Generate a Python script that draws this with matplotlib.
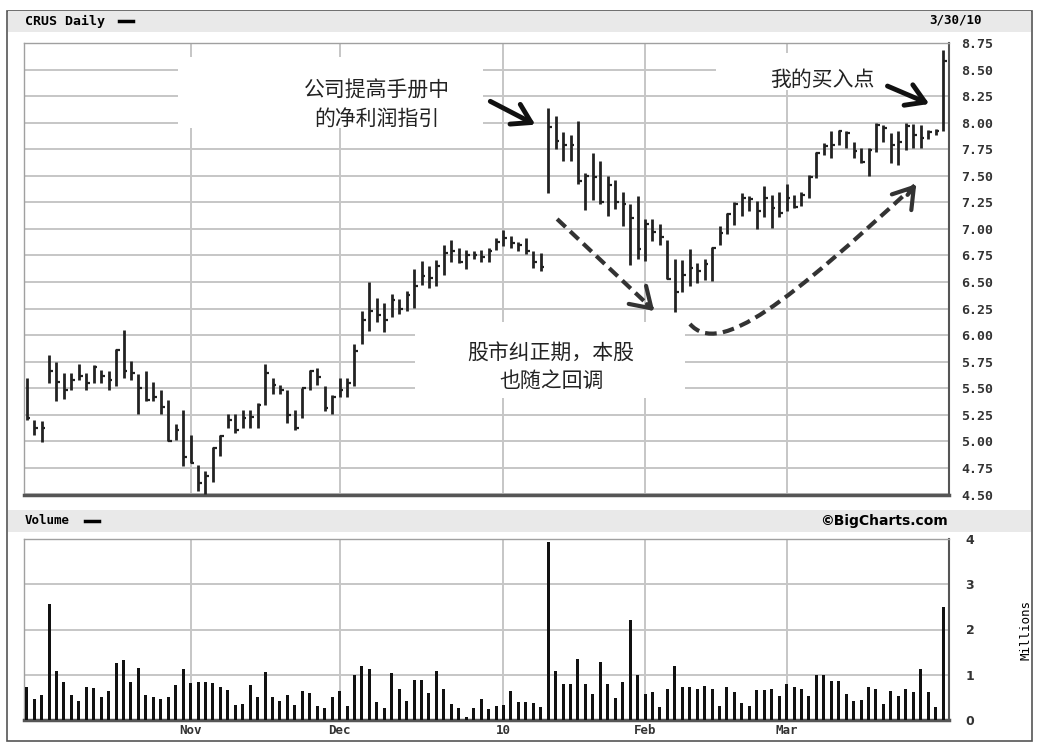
import matplotlib
matplotlib.use("Agg")
import matplotlib.pyplot as plt
import numpy as np
from matplotlib.patches import Rectangle, PathPatch
from matplotlib.path import Path
from matplotlib.lines import Line2D

# CRUS daily bars, Oct 1 2009 .. Mar 30 2010 (one entry per trading day)
high = [5.60, 5.20, 5.19, 5.81, 5.75, 5.64, 5.64, 5.73, 5.64, 5.72,
        5.67, 5.66, 5.87, 6.05, 5.76, 5.63, 5.66, 5.56, 5.48, 5.39,
        5.16, 5.30, 5.06, 4.78, 4.72, 4.95, 5.06, 5.26, 5.26, 5.30,
        5.30, 5.36, 5.73, 5.60, 5.53, 5.48, 5.30, 5.50, 5.67, 5.69,
        5.52, 5.44, 5.60, 5.60, 5.92, 6.23, 6.50, 6.35, 6.30, 6.39,
        6.34, 6.42, 6.62, 6.70, 6.65, 6.71, 6.85, 6.90, 6.82, 6.80,
        6.79, 6.80, 6.82, 6.91, 6.99, 6.93, 6.88, 6.91, 6.79, 6.77,
        8.14, 8.06, 7.91, 7.88, 8.02, 7.53, 7.71, 7.64, 7.50, 7.46,
        7.35, 7.23, 7.31, 7.09, 7.09, 7.05, 6.90, 6.72, 6.71, 6.81,
        6.68, 6.72, 6.83, 7.03, 7.15, 7.25, 7.34, 7.31, 7.26, 7.40,
        7.32, 7.35, 7.42, 7.32, 7.35, 7.51, 7.72, 7.81, 7.92, 7.93,
        7.92, 7.82, 7.76, 7.76, 8.00, 7.98, 7.90, 7.92, 8.00, 7.99,
        7.98, 7.93, 7.94, 8.68]
low = [5.20, 5.06, 4.99, 5.55, 5.38, 5.40, 5.48, 5.58, 5.48, 5.55,
       5.55, 5.48, 5.52, 5.60, 5.58, 5.26, 5.38, 5.38, 5.26, 5.00,
       5.01, 4.77, 4.80, 4.53, 4.50, 4.62, 4.86, 5.13, 5.08, 5.13,
       5.13, 5.13, 5.34, 5.45, 5.45, 5.17, 5.11, 5.22, 5.48, 5.53,
       5.29, 5.26, 5.42, 5.42, 5.52, 5.92, 6.04, 6.12, 6.03, 6.17,
       6.20, 6.23, 6.26, 6.47, 6.44, 6.46, 6.57, 6.69, 6.68, 6.62,
       6.72, 6.69, 6.69, 6.80, 6.84, 6.82, 6.79, 6.76, 6.63, 6.60,
       7.34, 7.75, 7.64, 7.64, 7.42, 7.18, 7.27, 7.23, 7.12, 7.19,
       7.03, 6.66, 6.72, 6.70, 6.89, 6.85, 6.53, 6.22, 6.41, 6.46,
       6.49, 6.52, 6.51, 6.85, 6.95, 7.04, 7.12, 7.17, 7.00, 7.11,
       7.01, 7.11, 7.17, 7.20, 7.22, 7.29, 7.48, 7.70, 7.67, 7.79,
       7.76, 7.67, 7.62, 7.50, 7.72, 7.82, 7.62, 7.60, 7.74, 7.76,
       7.76, 7.85, 7.88, 7.92]
close = [5.22, 5.13, 5.13, 5.66, 5.56, 5.48, 5.58, 5.62, 5.55, 5.70,
         5.62, 5.58, 5.86, 5.66, 5.64, 5.50, 5.39, 5.42, 5.32, 5.00,
         5.11, 4.85, 4.80, 4.61, 4.67, 4.94, 5.05, 5.20, 5.11, 5.22,
         5.23, 5.34, 5.64, 5.53, 5.48, 5.25, 5.13, 5.50, 5.66, 5.61,
         5.31, 5.42, 5.48, 5.55, 5.85, 6.14, 6.23, 6.19, 6.14, 6.33,
         6.25, 6.38, 6.46, 6.56, 6.54, 6.65, 6.77, 6.79, 6.69, 6.75,
         6.75, 6.74, 6.79, 6.88, 6.91, 6.87, 6.85, 6.79, 6.69, 6.64,
         7.96, 7.83, 7.79, 7.79, 7.45, 7.50, 7.49, 7.25, 7.41, 7.25,
         7.23, 7.10, 6.81, 7.05, 6.97, 6.92, 6.53, 6.41, 6.57, 6.63,
         6.60, 6.67, 6.82, 6.96, 7.14, 7.23, 7.29, 7.28, 7.17, 7.29,
         7.20, 7.15, 7.29, 7.21, 7.32, 7.49, 7.71, 7.78, 7.79, 7.92,
         7.90, 7.73, 7.63, 7.74, 7.98, 7.95, 7.79, 7.82, 7.97, 7.88,
         7.86, 7.91, 7.92, 8.58]
volume = [0.74, 0.46, 0.55, 2.56, 1.09, 0.85, 0.55, 0.43, 0.74, 0.71,
          0.51, 0.63, 1.25, 1.32, 0.85, 1.16, 0.55, 0.51, 0.46, 0.51,
          0.78, 1.13, 0.81, 0.85, 0.85, 0.81, 0.74, 0.67, 0.34, 0.35,
          0.78, 0.51, 1.07, 0.51, 0.43, 0.55, 0.34, 0.63, 0.59, 0.31,
          0.26, 0.51, 0.65, 0.31, 1.00, 1.19, 1.13, 0.40, 0.26, 1.04,
          0.68, 0.43, 0.88, 0.88, 0.59, 1.09, 0.68, 0.35, 0.26, 0.07,
          0.26, 0.46, 0.25, 0.31, 0.34, 0.63, 0.39, 0.40, 0.37, 0.28,
          3.93, 1.08, 0.80, 0.80, 1.34, 0.80, 0.58, 1.28, 0.80, 0.49,
          0.84, 2.21, 0.99, 0.58, 0.61, 0.28, 0.69, 1.19, 0.73, 0.73,
          0.69, 0.76, 0.69, 0.31, 0.73, 0.61, 0.37, 0.31, 0.66, 0.66,
          0.69, 0.54, 0.80, 0.73, 0.69, 0.54, 0.99, 0.99, 0.87, 0.87,
          0.58, 0.41, 0.45, 0.73, 0.69, 0.35, 0.63, 0.54, 0.69, 0.61,
          1.12, 0.61, 0.28, 2.50]

# first trading day of each month (bar index) and its label
month_pos = [22, 42, 64, 83, 102]
month_lab = ["Nov", "Dec", "10", "Feb", "Mar"]

W, H = 1038, 747
fig = plt.figure(figsize=(W / 100, H / 100), dpi=100)
plt.rcParams["font.family"] = ["DejaVu Sans"]
CJK = ["Noto Sans CJK SC", "DejaVu Sans"]


def fx(px):
    return px / W


def fy(py):
    return 1 - py / H


# outer frame and the two grey title strips
fig.add_artist(Rectangle((fx(7), fy(741)), fx(1032) - fx(7), fy(11) - fy(741),
                         transform=fig.transFigure, fc="white", ec="#555555", lw=1.2, zorder=0))
for top, bot in [(11, 32), (510, 532)]:
    fig.add_artist(Rectangle((fx(8), fy(bot)), fx(1031) - fx(8), fy(top) - fy(bot),
                             transform=fig.transFigure, fc="#e9e9e9", ec="none", zorder=0.5))

fig.text(fx(25), fy(21), "CRUS Daily", family="DejaVu Sans Mono", fontsize=9.5,
         fontweight="bold", va="center", ha="left")
fig.add_artist(Line2D([fx(119), fx(133)], [fy(21), fy(21)], transform=fig.transFigure,
                      color="black", lw=2.5))
fig.text(fx(982), fy(20), "3/30/10", family="DejaVu Sans Mono", fontsize=9,
         fontweight="bold", va="center", ha="right")
fig.text(fx(25), fy(521), "Volume", family="DejaVu Sans Mono", fontsize=9,
         fontweight="bold", va="center", ha="left")
fig.add_artist(Line2D([fx(85), fx(99)], [fy(521), fy(521)], transform=fig.transFigure,
                      color="black", lw=2.5))
fig.text(fx(948), fy(521), "©BigCharts.com", fontsize=10, fontweight="bold",
         va="center", ha="right")
fig.text(fx(1026), fy(630), "Millions", family="DejaVu Sans Mono", fontsize=9,
         rotation=90, va="center", ha="center")

ax = fig.add_axes([fx(24), fy(494.5), fx(949) - fx(24), fy(43) - fy(494.5)])
axv = fig.add_axes([fx(24), fy(720), fx(949) - fx(24), fy(539) - fy(720)])

x = np.arange(len(close))
xlim = (-0.36, 123.8)

for a in (ax, axv):
    a.set_xlim(*xlim)
    a.set_axisbelow(True)
    a.set_xticks(month_pos)
    a.grid(True, color="#c6c6c6", lw=1.4)
    a.yaxis.tick_right()
    a.tick_params(length=0)
    a.spines["top"].set_color("#a0a0a0")
    a.spines["left"].set_color("#a0a0a0")
    a.spines["top"].set_linewidth(1.0)
    a.spines["left"].set_linewidth(1.0)
    a.spines["bottom"].set_color("#555555")
    a.spines["bottom"].set_linewidth(2.5)
    a.spines["right"].set_color("#555555")
    a.spines["right"].set_linewidth(1.5)

# price panel
ax.set_ylim(4.5, 8.75)
ax.set_yticks(np.arange(4.5, 8.76, 0.25))
ax.set_yticklabels(["%.2f" % v for v in np.arange(4.5, 8.76, 0.25)],
                   family="DejaVu Sans Mono", fontsize=9.5, fontweight="bold", color="#333333")
ax.tick_params(axis="y", pad=9)
ax.set_xticklabels([])

# white boxes behind the notes
for x0, x1, y0, y1 in [(20.3, 61.2, 7.95, 8.62), (52.1, 88.4, 5.41, 6.124),
                       (92.5, 123.8, 8.31, 8.656)]:
    ax.add_patch(Rectangle((x0, y0), x1 - x0, y1 - y0, fc="white", ec="none", zorder=1))

ax.vlines(x, low, high, color="#222222", lw=2.0, zorder=3)
ax.hlines(close, x, x + 0.5, color="#222222", lw=1.6, zorder=3)

ax.text(47.0, 8.166, "公司提高手册中\n的净利润指引", family=CJK, fontsize=15,
        ha="center", va="center", color="#222222", linespacing=1.4, zorder=4)
ax.text(70.4, 5.70, "股市纠正期，本股\n也随之回调", family=CJK, fontsize=15,
        ha="center", va="center", color="#222222", linespacing=1.4, zorder=4)
ax.text(106.8, 8.40, "我的买入点", family=CJK, fontsize=15,
        ha="center", va="center", color="#222222", zorder=4)

solid = dict(arrowstyle="->,head_length=0.65,head_width=0.4", lw=3.5, color="#111111",
             mutation_scale=20)
ax.annotate("", xy=(68.6, 7.969), xytext=(61.9, 8.213), arrowprops=solid, zorder=5)
ax.annotate("", xy=(121.5, 8.166), xytext=(115.2, 8.355), arrowprops=solid, zorder=5)

# dashed arrows: dashed shaft plus solid head
dash = (0, (2.8, 1.5))
ax.plot([71.2, 84.0], [7.093, 6.246], color="#333333", lw=3, ls=dash, zorder=5)
head = dict(arrowstyle="->,head_length=0.7,head_width=0.45", lw=3, color="#333333",
            mutation_scale=20)
ax.annotate("", xy=(84.5, 6.209), xytext=(83.0, 6.31), arrowprops=head, zorder=5)

verts = [(89.03, 6.105), (93.05, 5.785), (102.46, 6.331), (119.2, 7.41)]
ax.add_patch(PathPatch(Path(verts, [Path.MOVETO, Path.CURVE4, Path.CURVE4, Path.CURVE4]),
                       fc="none", ec="#333333", lw=3, ls=dash, zorder=5))
ax.annotate("", xy=(119.64, 7.442), xytext=(118.0, 7.30), arrowprops=head, zorder=5)

# volume panel
axv.set_ylim(0, 4)
axv.set_yticks([0, 1, 2, 3, 4])
axv.set_yticklabels(["0", "1", "2", "3", "4"], fontsize=9, fontweight="bold", color="#333333")
axv.tick_params(axis="y", pad=12)
axv.bar(x, volume, width=0.4, color="#111111", zorder=3)
axv.set_xticklabels(month_lab, family="DejaVu Sans Mono", fontsize=9, fontweight="bold",
                    color="#333333")
axv.tick_params(axis="x", pad=3)

fig.savefig("out.png", dpi=100)
